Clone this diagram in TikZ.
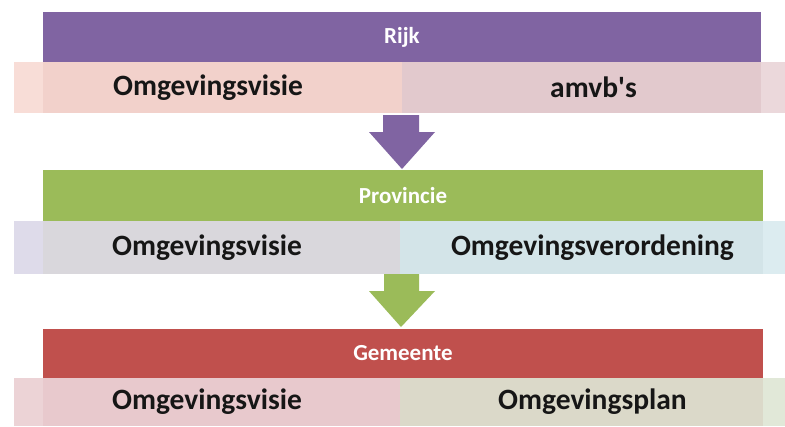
\documentclass[tikz,border=0pt]{standalone}
\usepackage{fontspec}
\setmainfont{Carlito}[Ligatures=TeXOff]
\definecolor{rijkc}{HTML}{8064A2}
\definecolor{provc}{HTML}{9BBB59}
\definecolor{gemc}{HTML}{C0504D}
\definecolor{rAL}{HTML}{F2D1CB}
\definecolor{rAR}{HTML}{E2C9CD}
\definecolor{rALs}{HTML}{F8DDD7}
\definecolor{rARs}{HTML}{EBD8DB}
\definecolor{rBL}{HTML}{D9D7DC}
\definecolor{rBR}{HTML}{D3E4E8}
\definecolor{rBLs}{HTML}{DEDBEA}
\definecolor{rBRs}{HTML}{DCECF0}
\definecolor{rCL}{HTML}{E8C9CD}
\definecolor{rCR}{HTML}{DBD9C9}
\definecolor{rCLs}{HTML}{ECD3D6}
\definecolor{rCRs}{HTML}{E1E8D8}
\definecolor{txt}{HTML}{161616}
\begin{document}
\begin{tikzpicture}[x=1pt,y=-1pt,
  header/.style={rectangle,inner sep=0pt,minimum width=718pt,minimum height=50pt,text=white,font=\fontsize{23}{26}\selectfont\bfseries},
  cell/.style={rectangle,inner sep=0pt,text=txt,font=\fontsize{29.5}{32}\selectfont\bfseries},
  strip/.style={rectangle,inner sep=0pt}]
\useasboundingbox[fill=white] (0,0) rectangle (785,426);
% Rijk
\node[header,fill=rijkc] (rijk) at (402,37) {Rijk};
\node[cell,fill=rAL,minimum width=388pt,minimum height=51pt] (r1l) at (208,87.5) {};
\node[cell,fill=rAR,minimum width=383pt,minimum height=51pt] (r1r) at (593.5,87.5) {};
\fill[rALs] (14,62) rectangle (43,113);
\fill[rARs] (761,62) rectangle (785,113);
\node[cell] (t1l) at (r1l.center) {Omgevingsvisie};
\node[cell] (t1r) at (r1r.center) {amvb's};
% arrow 1
\fill[rijkc] (383,115) -- (419,115) -- (419,132) -- (435,132) -- (402,169) -- (369,132) -- (383,132) -- cycle;
% Provincie
\node[header,fill=provc,minimum width=720pt,minimum height=51pt] (prov) at (403,195.5) {Provincie};
\node[cell,fill=rBL,minimum width=386pt,minimum height=53pt] (r2l) at (207,247.5) {};
\node[cell,fill=rBR,minimum width=385pt,minimum height=53pt] (r2r) at (592.5,247.5) {};
\fill[rBLs] (14,221) rectangle (43,274);
\fill[rBRs] (763,221) rectangle (785,274);
\node[cell] (t2l) at (r2l.center) {Omgevingsvisie};
\node[cell] (t2r) at (r2r.center) {Omgevingsverordening};
% arrow 2
\fill[provc] (384,274) -- (419,274) -- (419,291) -- (435,291) -- (401,327) -- (369,291) -- (384,291) -- cycle;
% Gemeente
\node[header,fill=gemc,minimum width=720pt,minimum height=49pt] (gem) at (403,353.5) {Gemeente};
\node[cell,fill=rCL,minimum width=386pt,minimum height=48pt] (r3l) at (207,402) {};
\node[cell,fill=rCR,minimum width=385pt,minimum height=48pt] (r3r) at (592.5,402) {};
\fill[rCLs] (14,378) rectangle (43,426);
\fill[rCRs] (763,378) rectangle (785,426);
\node[cell] (t3l) at (r3l.center) {Omgevingsvisie};
\node[cell] (t3r) at (r3r.center) {Omgevingsplan};
\end{tikzpicture}
\end{document}
